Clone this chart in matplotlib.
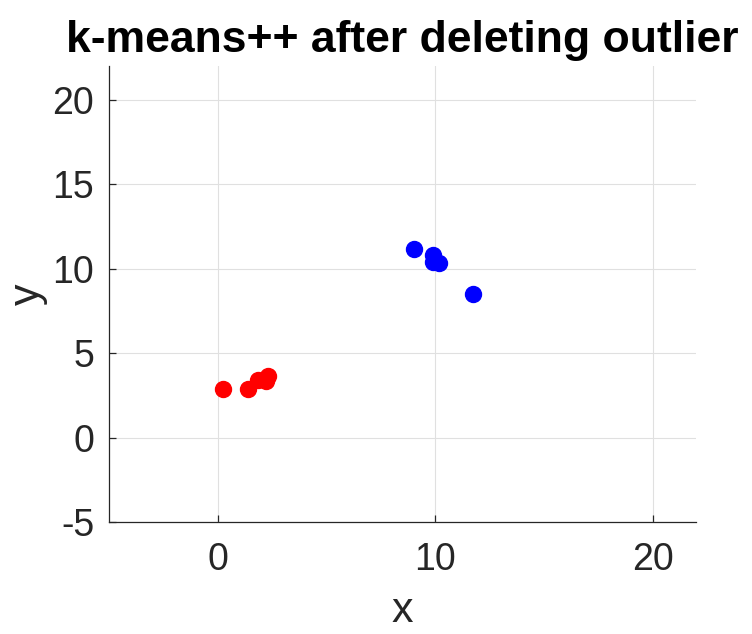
import matplotlib
matplotlib.use('Agg')
import matplotlib.pyplot as plt

# cluster 1 (red) and cluster 2 (blue)
red_x = [0.25, 1.40, 1.82, 2.28, 2.20]
red_y = [2.90, 2.86, 3.39, 3.65, 3.33]
blue_x = [9.03, 9.91, 9.88, 10.18, 11.75]
blue_y = [11.18, 10.79, 10.39, 10.36, 8.48]

xticks = [0, 10, 20]
yticks = [-5, 0, 5, 10, 15, 20]

plt.rcParams['font.family'] = ['Liberation Sans', 'DejaVu Sans']
plt.rcParams['axes.unicode_minus'] = False

fig = plt.figure(figsize=(7.52, 6.34), dpi=100)
ax = fig.add_axes([0.1455, 0.1764, 0.9255 - 0.1455, 0.8959 - 0.1764])

ax.plot(red_x, red_y, 'o', color='#ff0000', markersize=11.5, linestyle='none')
ax.plot(blue_x, blue_y, 'o', color='#0000ff', markersize=11.5, linestyle='none')

ax.set_xlim(-5, 22)
ax.set_ylim(-5, 22)
ax.set_xticks(xticks)
ax.set_yticks(yticks)
ax.grid(True, color='#e0e0e0', linewidth=0.8)
ax.set_axisbelow(True)

for s in ['top', 'right']:
    ax.spines[s].set_visible(False)
for s in ['left', 'bottom']:
    ax.spines[s].set_color('#262626')
    ax.spines[s].set_linewidth(0.9)

ax.tick_params(direction='in', length=5, width=0.9, colors='#262626',
               labelsize=27)
ax.tick_params(axis='x', pad=14)
ax.tick_params(axis='y', pad=11)

ax.set_xlabel('x', fontsize=31, color='#262626', labelpad=10)
ax.set_ylabel('y', fontsize=31, color='#262626', labelpad=3)
ax.set_title('k-means++ after deleting outlier', fontsize=32, fontweight='bold', pad=10)

fig.savefig('out.png', dpi=100)
